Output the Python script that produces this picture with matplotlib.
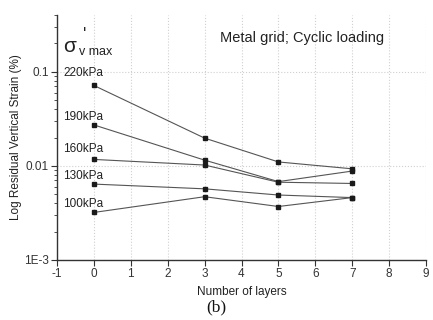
import matplotlib
matplotlib.use("Agg")
import matplotlib.pyplot as plt
from matplotlib.ticker import LogLocator, FixedLocator

plt.rcParams['font.family'] = ['Liberation Sans', 'DejaVu Sans']
plt.rcParams['axes.unicode_minus'] = False

layers = [0, 3, 5, 7]
pressures = ["220kPa", "190kPa", "160kPa", "130kPa", "100kPa"]
strain = {
    "220kPa": [0.0714, 0.0197, 0.0110, 0.0093],
    "190kPa": [0.0272, 0.0115, 0.0068, 0.0088],
    "160kPa": [0.0117, 0.0102, 0.0067, 0.0065],
    "130kPa": [0.0064, 0.0057, 0.0049, 0.0046],
    "100kPa": [0.0032, 0.0047, 0.0037, 0.0046],
}
# label heights, axes fraction
label_y = [0.763, 0.584, 0.453, 0.343, 0.229]

fig = plt.figure(figsize=(4.33, 3.2), dpi=100)
ax = fig.add_axes([57 / 433, 60 / 320, 369 / 433, 245 / 320])

for p in pressures:
    ax.plot(layers, strain[p], color="#555555", lw=0.8, marker="s",
            ms=3.5, mfc="#1a1a1a", mec="#1a1a1a")

ax.set_yscale("log")
ax.set_xlim(-1, 9)
ax.set_ylim(1e-3, 0.4)
ax.xaxis.set_major_locator(FixedLocator(range(-1, 10)))
ax.set_yticks([1e-3, 1e-2, 1e-1])
ax.set_yticklabels(["1E-3", "0.01", "0.1"])
ax.yaxis.set_minor_locator(LogLocator(base=10, subs=range(2, 10)))
ax.yaxis.set_minor_formatter(plt.NullFormatter())

ax.grid(True, which="major", ls=":", color="#d0d0d0", lw=0.8)
ax.set_axisbelow(True)
for s in ["top", "right"]:
    ax.spines[s].set_visible(False)
for s in ["left", "bottom"]:
    ax.spines[s].set_color("#333333")
    ax.spines[s].set_linewidth(1.0)
ax.tick_params(which="major", direction="out", length=4, width=0.8,
               labelsize=8.5, colors="#333333", pad=2)
ax.tick_params(which="minor", direction="out", length=2.5, width=0.6,
               colors="#333333")

ax.set_xlabel("Number of layers", fontsize=8.5, color="#222222", labelpad=4)
ax.set_ylabel("Log Residual Vertical Strain (%)", fontsize=8.5,
              color="#222222", labelpad=1)

for p, yy in zip(pressures, label_y):
    ax.text(0.017, yy, p, transform=ax.transAxes, fontsize=8.5,
            color="#222222", va="center", ha="left")

ax.text(0.665, 0.906, "Metal grid; Cyclic loading", transform=ax.transAxes,
        fontsize=10.5, color="#222222", ha="center", va="center")

# sigma'v max
ax.text(0.016, 0.872, "σ", transform=ax.transAxes, fontsize=15,
        color="#222222", ha="left", va="center")
ax.text(0.070, 0.918, "'", transform=ax.transAxes, fontsize=13,
        color="#222222", ha="left", va="center")
ax.text(0.060, 0.850, "v max", transform=ax.transAxes, fontsize=9,
        color="#222222", ha="left", va="center")

fig.text(0.5, 0.04, "(b)", fontsize=12.5, family="Liberation Serif",
         color="#111111", ha="center", va="center")

fig.savefig("out.png", dpi=100)
